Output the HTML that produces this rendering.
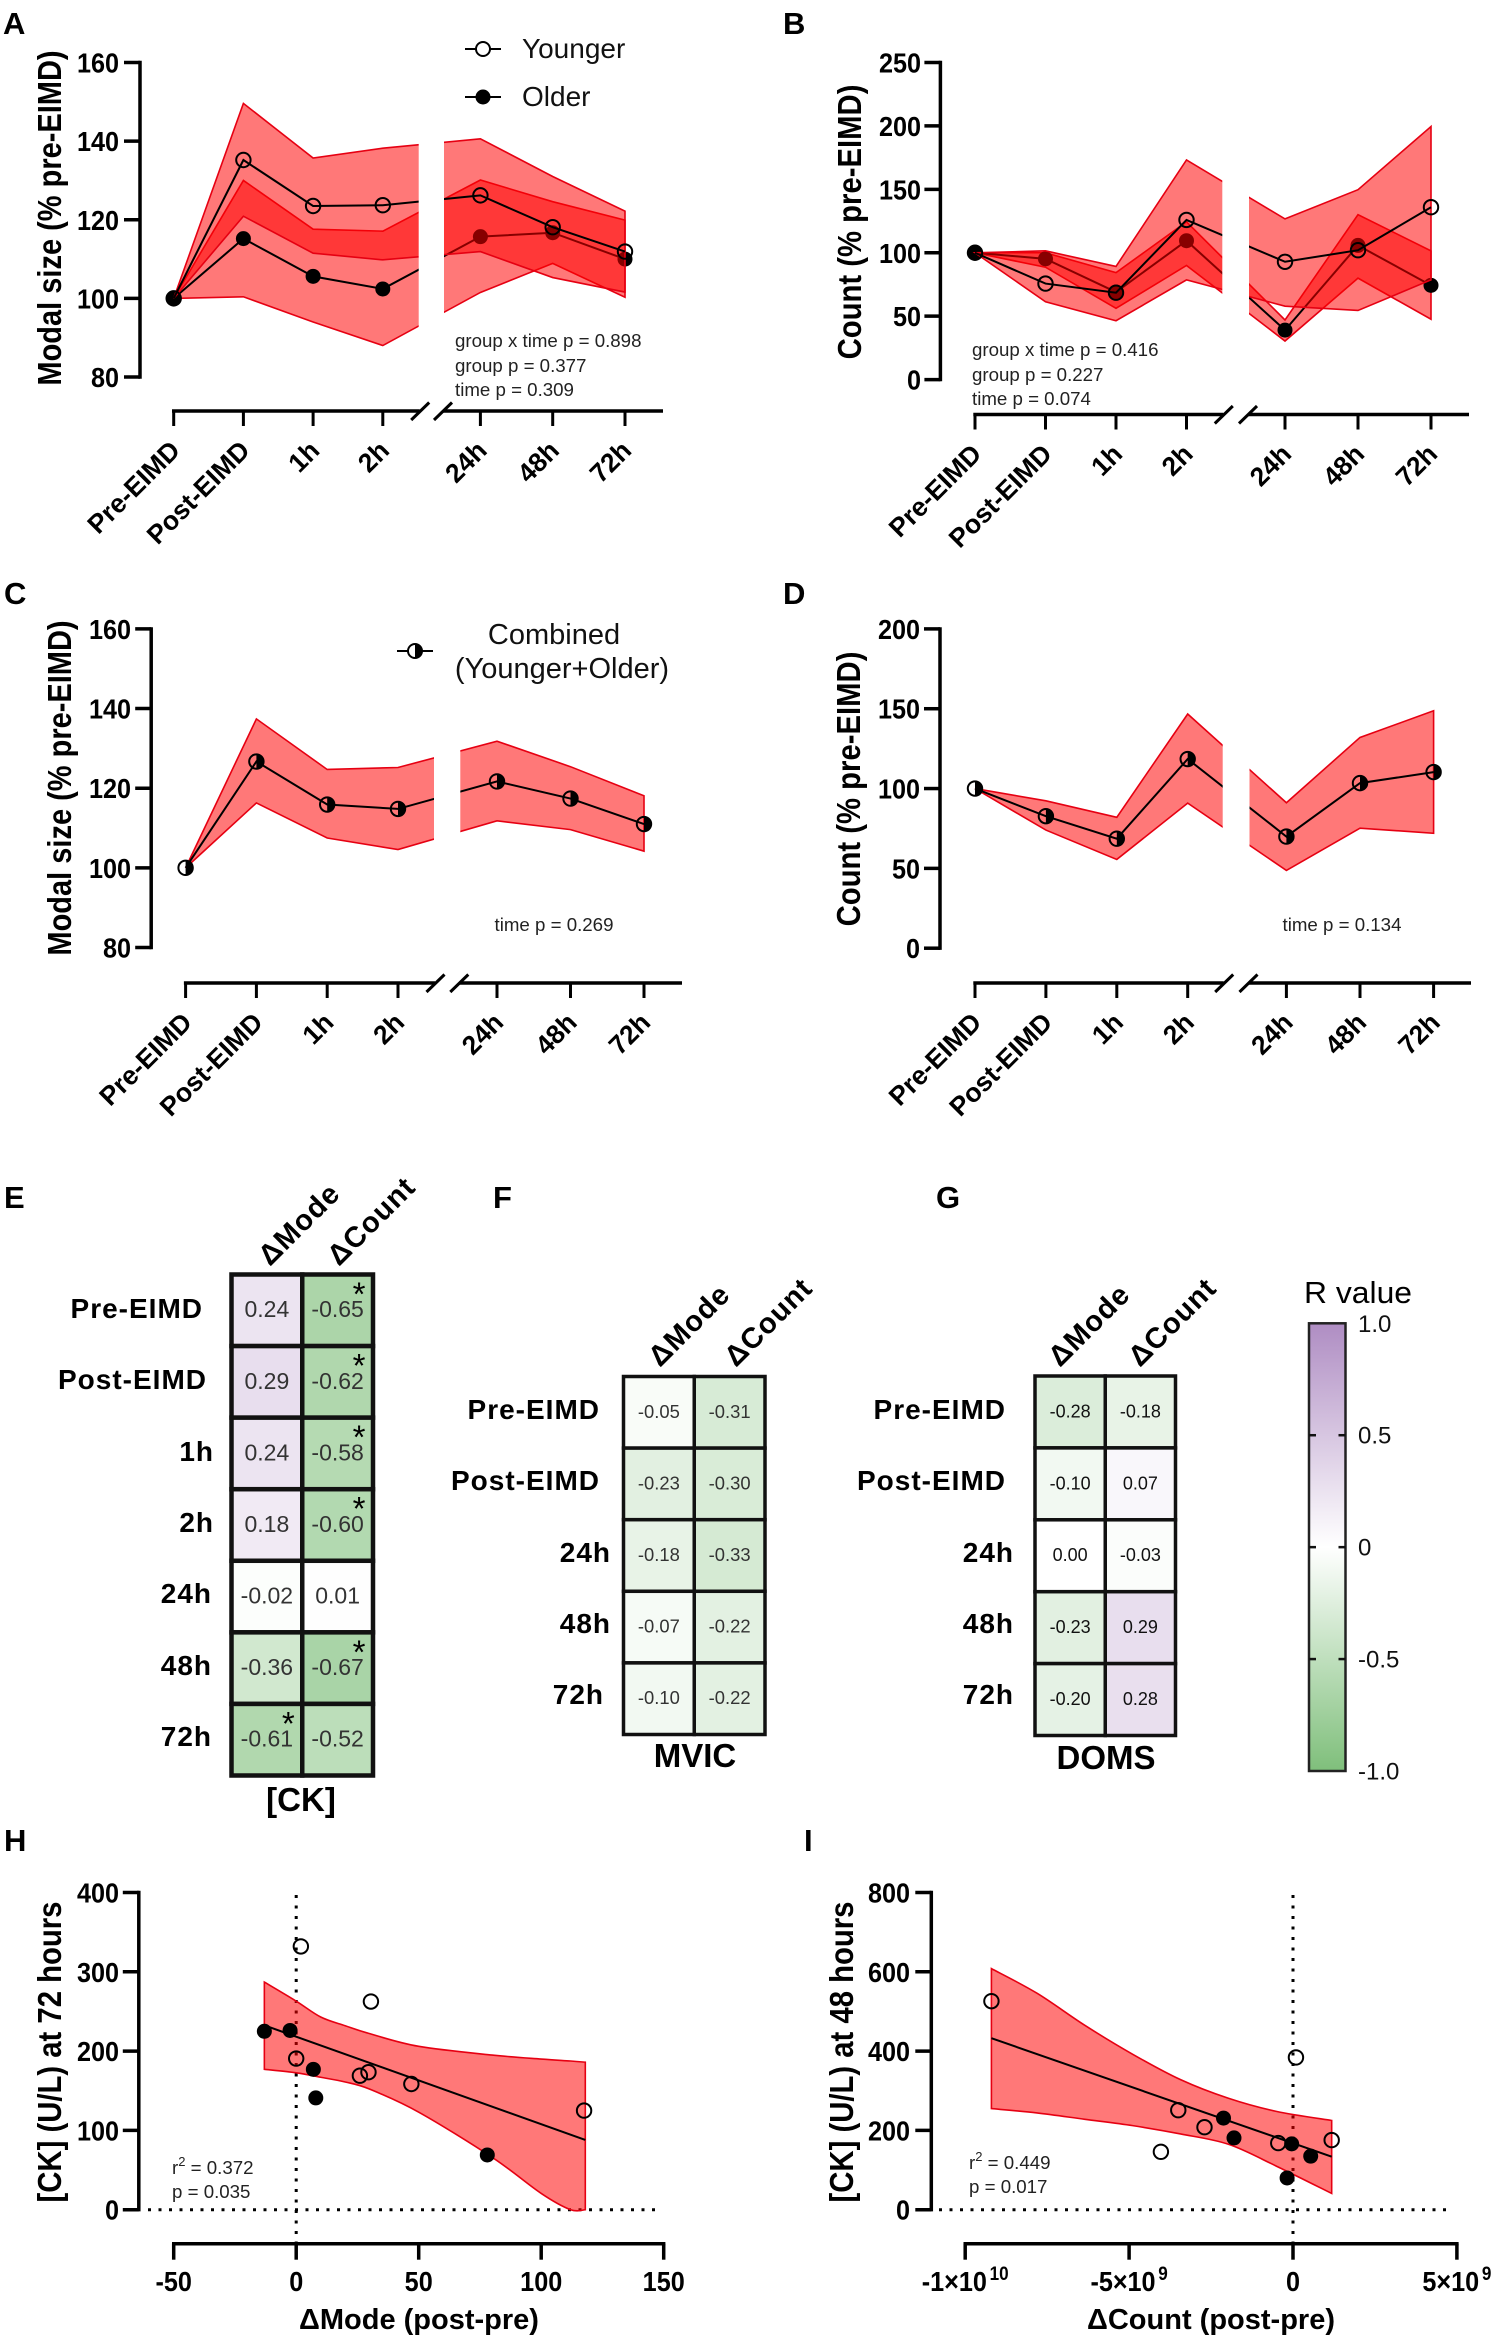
<!DOCTYPE html>
<html lang="en">
<head>
<meta charset="utf-8">
<title>Multi-panel figure: modal size, count and correlations</title>
<style>
html,body{margin:0;padding:0;background:#fff;}
svg{display:block;}
text{font-family:"Liberation Sans",Arial,sans-serif;fill:#000;}
.pl{font-size:31px;font-weight:bold;}
.yt{font-size:29px;font-weight:bold;text-anchor:middle;}
.xt{font-size:29px;font-weight:bold;text-anchor:middle;}
.tick{font-size:28px;font-weight:bold;}
.cat{font-size:26.5px;font-weight:bold;text-anchor:end;}
.stat{font-size:18.7px;fill:#222;}
.leg{font-size:28px;fill:#111;}
.legc{font-size:29px;fill:#111;text-anchor:middle;}
.row{font-size:28px;font-weight:bold;letter-spacing:1px;text-anchor:end;}
.col{font-size:29px;font-weight:bold;letter-spacing:1px;}
.heatname{font-size:33px;font-weight:bold;text-anchor:middle;}
.cb{font-size:24px;fill:#111;}
</style>
</head>
<body>
<svg id="figure" xmlns="http://www.w3.org/2000/svg" width="1500" height="2342" viewBox="0 0 1500 2342">
<defs>
<linearGradient id="cb-grad" x1="0" y1="0" x2="0" y2="1">
<stop offset="0" stop-color="#af8dc3"/>
<stop offset="0.5" stop-color="#ffffff"/>
<stop offset="1" stop-color="#7fbf7b"/>
</linearGradient>
</defs>

<g id="panel-a"></g>
<g id="panel-b"></g>
<g id="panel-c"></g>
<g id="panel-d"></g>
<g id="panel-e"></g>
<g id="panel-f"></g>
<g id="panel-g"></g>
<g id="colorbar"></g>
<g id="panel-h"></g>
<g id="panel-i"></g>

<!-- panel letters -->
<text class="pl" x="3" y="34">A</text>
<text class="pl" x="783" y="34">B</text>
<text class="pl" x="4" y="604">C</text>
<text class="pl" x="783" y="604">D</text>
<text class="pl" x="4" y="1208">E</text>
<text class="pl" x="493" y="1208">F</text>
<text class="pl" x="936" y="1208">G</text>
<text class="pl" x="4" y="1851">H</text>
<text class="pl" x="804" y="1851">I</text>

<!-- axis titles -->
<text class="yt" transform="translate(61 218) rotate(-90) scale(1 1.15)">Modal size (% pre-EIMD)</text>
<text class="yt" transform="translate(861 222) rotate(-90) scale(1.01 1.15)">Count (% pre-EIMD)</text>
<text class="yt" transform="translate(71 788) rotate(-90) scale(1 1.15)">Modal size (% pre-EIMD)</text>
<text class="yt" transform="translate(860 789) rotate(-90) scale(1.01 1.15)">Count (% pre-EIMD)</text>
<text class="yt" transform="translate(61 2052) rotate(-90) scale(1.01 1.15)">[CK] (U/L) at 72 hours</text>
<text class="yt" transform="translate(853 2052) rotate(-90) scale(1.01 1.15)">[CK] (U/L) at 48 hours</text>
<text class="xt" x="419" y="2329">ΔMode (post-pre)</text>
<text class="xt" x="1211" y="2329">ΔCount (post-pre)</text>

<!-- legends -->
<g>
<line x1="465" y1="49" x2="501" y2="49" stroke="#000" stroke-width="2"/>
<circle cx="483" cy="49" r="7" fill="#fff" stroke="#000" stroke-width="2"/>
<text class="leg" x="522" y="58">Younger</text>
</g>
<g>
<line x1="465" y1="97" x2="501" y2="97" stroke="#000" stroke-width="2"/>
<circle cx="483" cy="97" r="7.5" fill="#000"/>
<text class="leg" x="522" y="106">Older</text>
</g>
<g>
<line x1="397" y1="651" x2="433" y2="651" stroke="#000" stroke-width="2"/>
<circle cx="415" cy="651" r="7" fill="#fff" stroke="#000" stroke-width="2"/>
<path d="M415 644 A7 7 0 0 1 415 658 Z" fill="#000"/>
<text class="legc" x="554" y="644">Combined</text>
<text class="legc" x="562" y="678">(Younger+Older)</text>
</g>

<!-- statistics -->
<g>
<text class="stat" x="455" y="347">group x time p = 0.898</text>
<text class="stat" x="455" y="372">group p = 0.377</text>
<text class="stat" x="455" y="396">time p = 0.309</text>
</g>
<g>
<text class="stat" x="972" y="356">group x time p = 0.416</text>
<text class="stat" x="972" y="381">group p = 0.227</text>
<text class="stat" x="972" y="405">time p = 0.074</text>
</g>
<text class="stat" x="554" y="931" text-anchor="middle">time p = 0.269</text>
<text class="stat" x="1342" y="931" text-anchor="middle">time p = 0.134</text>
<g>
<text class="stat" x="172" y="2174">r<tspan dy="-8" font-size="13">2</tspan><tspan dy="8"> = 0.372</tspan></text>
<text class="stat" x="172" y="2198">p = 0.035</text>
</g>
<g>
<text class="stat" x="969" y="2169">r<tspan dy="-8" font-size="13">2</tspan><tspan dy="8"> = 0.449</tspan></text>
<text class="stat" x="969" y="2193">p = 0.017</text>
</g>

<!-- heatmap row labels -->
<g>
<text class="row" x="203" y="1318">Pre-EIMD</text>
<text class="row" x="207" y="1389">Post-EIMD</text>
<text class="row" x="214" y="1461">1h</text>
<text class="row" x="214" y="1532">2h</text>
<text class="row" x="212" y="1603">24h</text>
<text class="row" x="212" y="1675">48h</text>
<text class="row" x="212" y="1746">72h</text>
</g>
<g>
<text class="row" x="600" y="1419">Pre-EIMD</text>
<text class="row" x="600" y="1490">Post-EIMD</text>
<text class="row" x="611" y="1562">24h</text>
<text class="row" x="611" y="1633">48h</text>
<text class="row" x="604" y="1704">72h</text>
</g>
<g>
<text class="row" x="1006" y="1419">Pre-EIMD</text>
<text class="row" x="1006" y="1490">Post-EIMD</text>
<text class="row" x="1014" y="1562">24h</text>
<text class="row" x="1014" y="1633">48h</text>
<text class="row" x="1014" y="1704">72h</text>
</g>

<!-- heatmap column labels -->
<text class="col" transform="translate(270 1267) rotate(-45)">ΔMode</text>
<text class="col" transform="translate(339 1267) rotate(-45)">ΔCount</text>
<text class="col" transform="translate(660 1368) rotate(-45)">ΔMode</text>
<text class="col" transform="translate(736 1368) rotate(-45)">ΔCount</text>
<text class="col" transform="translate(1060 1368) rotate(-45)">ΔMode</text>
<text class="col" transform="translate(1140 1368) rotate(-45)">ΔCount</text>

<!-- heatmap names -->
<text class="heatname" x="301" y="1811">[CK]</text>
<text class="heatname" x="695" y="1767">MVIC</text>
<text class="heatname" x="1106" y="1769">DOMS</text>
<text x="1304" y="1303" font-size="31" textLength="108" lengthAdjust="spacingAndGlyphs">R value</text>
</svg>

<script>
// ---- shared categories
const timeCategories = ['Pre-EIMD', 'Post-EIMD', '1h', '2h', '24h', '48h', '72h'];

// ---- panel A: modal size, younger vs older
const aYTicks = [80, 100, 120, 140, 160];
const aYoungerMean = [100, 135.2, 123.5, 123.7, 126.2, 118.1, 111.9];
const aYoungerUpper = [100, 149.6, 135.7, 138.2, 140.6, 131, 122.2];
const aYoungerLower = [100, 120.9, 111.5, 109.8, 111.9, 105.3, 101.6];
const aOlderMean = [100, 115.2, 105.6, 102.4, 115.7, 116.7, 110];
const aOlderUpper = [100, 130, 117.6, 117.1, 130.1, 124.6, 119.9];
const aOlderLower = [100, 100.4, 94, 88, 101.5, 108.9, 100.3];

// ---- panel B: count, younger vs older
const bYTicks = [0, 50, 100, 150, 200, 250];
const bYoungerMean = [100, 75.7, 68.5, 125.9, 92.9, 102, 135.9];
const bYoungerUpper = [100, 101.5, 89.2, 173.2, 126.7, 149.7, 199.5];
const bYoungerLower = [100, 61.4, 46.4, 78.6, 57.9, 54.5, 78.6];
const bOlderMean = [100, 95.2, 69, 109.5, 39, 105.8, 74.3];
const bOlderUpper = [100, 100, 84.3, 124.4, 47, 130, 101.5];
const bOlderLower = [100, 88.6, 56.2, 90, 30.4, 80, 47.6];

// ---- panel C: modal size, combined
const cYTicks = [80, 100, 120, 140, 160];
const cMean = [100, 126.7, 115.9, 114.8, 121.7, 117.4, 111];
const cUpper = [100, 137.4, 124.7, 125.2, 131.8, 125.4, 118.1];
const cLower = [100, 116.3, 107.5, 104.6, 111.8, 109.6, 104.2];

// ---- panel D: count, combined
const dYTicks = [0, 50, 100, 150, 200];
const dMean = [100, 82.7, 68.6, 118.5, 69.9, 103.4, 110.3];
const dUpper = [100, 92.3, 82, 146.7, 91.1, 132, 148.7];
const dLower = [100, 74, 55.6, 90.9, 48.7, 75.2, 72];

// ---- heatmaps E, F, G
const heatColumns = ['ΔMode', 'ΔCount'];
const eMode = [0.24, 0.29, 0.24, 0.18, -0.02, -0.36, -0.61];
const eCount = [-0.65, -0.62, -0.58, -0.60, 0.01, -0.67, -0.52];
const eModeSignificant = [false, false, false, false, false, false, true];
const eCountSignificant = [true, true, true, true, false, true, false];
const fMode = [-0.05, -0.23, -0.18, -0.07, -0.10];
const fCount = [-0.31, -0.30, -0.33, -0.22, -0.22];
const gMode = [-0.28, -0.10, 0.00, -0.23, -0.20];
const gCount = [-0.18, 0.07, -0.03, 0.29, 0.28];
const colorbarTicks = [1, 0.5, 0, -0.5, -1];
const colorbarTickLabels = ['1.0', '0.5', '0', '-0.5', '-1.0'];

// ---- panel H: [CK] at 72 h vs delta mode
const hXTicks = [-50, 0, 50, 100, 150];
const hYTicks = [0, 100, 200, 300, 400];
const hBandX = [-13, 0, 10, 20, 30, 50, 80, 100, 112, 118];
const hBandUpper = [287, 263, 243, 232, 222, 206, 195, 190, 187.5, 186];
const hBandLower = [177, 172.6, 167, 161, 152, 123, 66, 20.5, 0, 0];
const hFitX = [-13, 118];
const hFitY = [232.5, 88];
const hYoungerX = [1.9, 30.5, 0, 26, 29.5, 47, 117.5];
const hYoungerY = [332, 262.5, 190.6, 169, 173.4, 158.5, 125];
const hOlderX = [-13, -2.5, 7, 8, 78];
const hOlderY = [225, 226, 177, 141, 69];

// ---- panel I: [CK] at 48 h vs delta count (x in units of 1e9)
const iXTicks = [-10, -5, 0, 5];
const iXTickBases = ['-1×10', '-5×10', '0', '5×10'];
const iXTickExponents = ['10', '9', '', '9'];
const iYTicks = [0, 200, 400, 600, 800];
const iBandX = [-9.2, -7.81, -6.35, -4.89, -3.43, -1.97, -0.51, 1.18];
const iBandUpper = [608, 546, 465, 392, 328, 281, 248, 225];
const iBandLower = [255, 244, 228, 212, 191, 165, 110, 41];
const iFitX = [-9.2, 1.18];
const iFitY = [432.5, 133.6];
const iYoungerX = [-9.2, -3.5, -2.7, -4.03, -0.45, 0.09, 1.18];
const iYoungerY = [526, 251, 208, 146, 168, 384, 175.6];
const iOlderX = [-2.12, -1.8, -0.04, 0.54, -0.18];
const iOlderY = [231, 181, 166, 135, 80];

// ---- helpers
const SVGNS = 'http://www.w3.org/2000/svg';
const BAND_FILL = 'rgba(255,0,0,0.53)';
const BAND_STROKE = '#e60012';

function el(tag, attrs, parent) {
  const node = document.createElementNS(SVGNS, tag);
  for (const k in attrs) node.setAttribute(k, attrs[k]);
  parent.appendChild(node);
  return node;
}
function linear(d0, r0, d1, r1) {
  return function (v) { return r0 + (v - d0) * (r1 - r0) / (d1 - d0); };
}
function pts(xs, ys) {
  return xs.map(function (x, i) { return x.toFixed(2) + ',' + ys[i].toFixed(2); }).join(' ');
}

function drawYAxis(g, axisX, ticks, y, labelRight) {
  const lo = Math.min.apply(null, ticks);
  const hi = Math.max.apply(null, ticks);
  const axis = el('line', { x1: axisX, x2: axisX, y1: y(hi) - 1.7, y2: y(lo) + 1.7, stroke: '#000', 'stroke-width': 3.5 }, g);
  
  
  ticks.forEach(function (t) {
    const mark = el('line', { x1: axisX - 16, x2: axisX, y1: y(t), y2: y(t), stroke: '#000', 'stroke-width': 3.5 }, g);
    
    
    const label = el('text', { class: 'tick', 'text-anchor': 'end', transform: 'translate(' + labelRight + ' ' + (y(t) + 10) + ') scale(0.9 1)' }, g);
    label.textContent = String(t);
    
    
  });
}

function drawBand(g, xs, upper, lower, y, name) {
  const xsAll = xs.concat(xs.slice().reverse());
  const ysAll = upper.map(y).concat(lower.slice().reverse().map(y));
  const band = el('polygon', { points: pts(xsAll, ysAll), fill: BAND_FILL, stroke: BAND_STROKE, 'stroke-width': 1.6, 'stroke-linejoin': 'miter' }, g);
  
  
}

// Catmull-Rom segments through the given pixel points
function smoothSegments(px, py) {
  let d = '';
  for (let i = 0; i < px.length - 1; i++) {
    const i0 = Math.max(0, i - 1);
    const i3 = Math.min(px.length - 1, i + 2);
    const c1x = px[i] + (px[i + 1] - px[i0]) / 6;
    const c1y = py[i] + (py[i + 1] - py[i0]) / 6;
    const c2x = px[i + 1] - (px[i3] - px[i]) / 6;
    const c2y = py[i + 1] - (py[i3] - py[i]) / 6;
    d += ' C' + c1x.toFixed(2) + ' ' + c1y.toFixed(2) + ' ' + c2x.toFixed(2) + ' ' + c2y.toFixed(2) + ' ' + px[i + 1].toFixed(2) + ' ' + py[i + 1].toFixed(2);
  }
  return d;
}

function drawSmoothBand(g, xs, upper, lower, y, name) {
  const up = upper.map(y);
  const low = lower.map(y).reverse();
  const revX = xs.slice().reverse();
  const d = 'M' + xs[0].toFixed(2) + ' ' + up[0].toFixed(2) + smoothSegments(xs, up) +
    ' L' + revX[0].toFixed(2) + ' ' + low[0].toFixed(2) + smoothSegments(revX, low) + ' Z';
  const band = el('path', { d: d, fill: BAND_FILL, stroke: BAND_STROKE, 'stroke-width': 1.6 }, g);
  
  
}

function drawLine(g, xs, values, y, name) {
  const line = el('polyline', { points: pts(xs, values.map(y)), fill: 'none', stroke: '#000', 'stroke-width': 2 }, g);
  
  
}

function drawMarkers(g, xs, ys, kind, name) {
  xs.forEach(function (cx, i) {
    const cy = ys[i];
    if (kind === 'filled') {
      const dot = el('circle', { cx: cx, cy: cy, r: 7.5, fill: '#000' }, g);
      
      
    } else {
      const ring = el('circle', { cx: cx, cy: cy, r: 7.2, fill: 'none', stroke: '#000', 'stroke-width': 2 }, g);
      
      
      if (kind === 'half') {
        const half = el('path', { d: 'M' + cx + ' ' + (cy - 7.2) + ' A7.2 7.2 0 0 1 ' + cx + ' ' + (cy + 7.2) + ' Z', fill: '#000' }, g);
        
        
      }
    }
  });
}

// layout: tickX (7 x positions), gapL, gapR, axisY, axisL, axisR, top
function drawBreakOverlay(g, lay) {
  const gap = el('rect', { x: lay.gapL, y: lay.top, width: lay.gapR - lay.gapL, height: lay.axisY - 20 - lay.top, fill: '#fff' }, g);
  
  
  const left = el('line', { x1: lay.axisL - 1.7, x2: lay.gapL + 1, y1: lay.axisY, y2: lay.axisY, stroke: '#000', 'stroke-width': 3.5 }, g);
  
  
  const right = el('line', { x1: lay.gapR - 1, x2: lay.axisR, y1: lay.axisY, y2: lay.axisY, stroke: '#000', 'stroke-width': 3.5 }, g);
  
  
  [lay.gapL - 7.5, lay.gapR - 10].forEach(function (sx) {
    const slash = el('line', { x1: sx, y1: lay.axisY + 9, x2: sx + 18, y2: lay.axisY - 8.5, stroke: '#000', 'stroke-width': 3 }, g);
    
    
  });
  lay.tickX.forEach(function (tx, i) {
    const mark = el('line', { x1: tx, x2: tx, y1: lay.axisY, y2: lay.axisY + 15, stroke: '#000', 'stroke-width': 3 }, g);
    
    
    const ex = tx + 8;
    const ey = lay.axisY + 41;
    const label = el('text', { class: 'cat', transform: 'translate(' + ex + ' ' + ey + ') rotate(-45)' }, g);
    label.textContent = timeCategories[i];
    
    
  });
}

function tickPositions(x0, dxL, x24, dxR) {
  return [x0, x0 + dxL, x0 + 2 * dxL, x0 + 3 * dxL, x24, x24 + dxR, x24 + 2 * dxR];
}

// ---- panel A
(function () {
  const g = document.getElementById('panel-a');
  const y = linear(80, 377, 160, 62.5);
  const lay = { tickX: tickPositions(173.7, 69.7, 480.4, 72.3), gapL: 418.7, gapR: 444, axisY: 411, axisL: 173.7, axisR: 663, top: 120 };
  const sx = lay.tickX;
  drawYAxis(g, 140, aYTicks, y, 119);
  drawBand(g, sx, aOlderUpper, aOlderLower, y, 'older');
  drawLine(g, sx, aOlderMean, y, 'older');
  drawMarkers(g, sx, aOlderMean.map(y), 'filled', 'older');
  drawBand(g, sx, aYoungerUpper, aYoungerLower, y, 'younger');
  drawLine(g, sx, aYoungerMean, y, 'younger');
  drawMarkers(g, sx, aYoungerMean.map(y), 'open', 'younger');
  drawBreakOverlay(g, lay);
})();

// ---- panel B
(function () {
  const g = document.getElementById('panel-b');
  const y = linear(0, 379.6, 250, 62.5);
  const lay = { tickX: tickPositions(975, 70.5, 1285, 73), gapL: 1222.3, gapR: 1249, axisY: 414.5, axisL: 975, axisR: 1469, top: 100 };
  const sx = lay.tickX;
  drawYAxis(g, 940.4, bYTicks, y, 921);
  drawBand(g, sx, bOlderUpper, bOlderLower, y, 'older');
  drawLine(g, sx, bOlderMean, y, 'older');
  drawMarkers(g, sx, bOlderMean.map(y), 'filled', 'older');
  drawBand(g, sx, bYoungerUpper, bYoungerLower, y, 'younger');
  drawLine(g, sx, bYoungerMean, y, 'younger');
  drawMarkers(g, sx, bYoungerMean.map(y), 'open', 'younger');
  drawBreakOverlay(g, lay);
})();

// ---- panel C
(function () {
  const g = document.getElementById('panel-c');
  const y = linear(80, 947.5, 160, 628.9);
  const lay = { tickX: tickPositions(185.6, 70.8, 497, 73.5), gapL: 434, gapR: 460.3, axisY: 983, axisL: 185.6, axisR: 682, top: 690 };
  const sx = lay.tickX;
  drawYAxis(g, 151.2, cYTicks, y, 131);
  drawBand(g, sx, cUpper, cLower, y, 'combined');
  drawLine(g, sx, cMean, y, 'combined');
  drawMarkers(g, sx, cMean.map(y), 'half', 'combined');
  drawBreakOverlay(g, lay);
})();

// ---- panel D
(function () {
  const g = document.getElementById('panel-d');
  const y = linear(0, 948.2, 200, 628.9);
  const lay = { tickX: tickPositions(975, 70.9, 1286.4, 73.6), gapL: 1222.7, gapR: 1249.5, axisY: 983, axisL: 975, axisR: 1471, top: 690 };
  const sx = lay.tickX;
  drawYAxis(g, 940, dYTicks, y, 920);
  drawBand(g, sx, dUpper, dLower, y, 'combined');
  drawLine(g, sx, dMean, y, 'combined');
  drawMarkers(g, sx, dMean.map(y), 'half', 'combined');
  drawBreakOverlay(g, lay);
})();

// ---- heatmaps
function heatColor(v) {
  const to = v >= 0 ? [175, 141, 195] : [127, 191, 123];
  const t = Math.min(1, Math.abs(v));
  const c = to.map(function (ch) { return Math.round(255 + (ch - 255) * t); });
  return 'rgb(' + c.join(',') + ')';
}

function drawHeat(g, box, modeValues, countValues, modeStar, countStar, fontSize, textFill) {
  const cols = [modeValues, countValues];
  const stars = [modeStar, countStar];
  const n = modeValues.length;
  const cw = (box.x1 - box.x0) / cols.length;
  const ch = (box.y1 - box.y0) / n;
  cols.forEach(function (colVals, c) {
    colVals.forEach(function (v, r) {
      const x = box.x0 + c * cw;
      const y = box.y0 + r * ch;
      const cell = el('rect', { x: x, y: y, width: cw, height: ch, fill: heatColor(v), stroke: '#111', 'stroke-width': box.sw }, g);
      
      
      const label = el('text', { x: x + cw / 2, y: y + ch / 2 + fontSize * 0.3, 'text-anchor': 'middle', 'font-size': fontSize, style: 'fill:' + textFill }, g);
      label.textContent = v.toFixed(2);
      
      
      if (stars && stars[c] && stars[c][r]) {
        const star = el('text', { x: x + cw - 14, y: y + 31, 'text-anchor': 'middle', 'font-size': 33 }, g);
        star.textContent = '*';
        
        
      }
    });
  });
}

drawHeat(document.getElementById('panel-e'), { x0: 231.5, x1: 373, y0: 1274.5, y1: 1775.5, sw: 4.5 }, eMode, eCount, eModeSignificant, eCountSignificant, 23, '#333');
drawHeat(document.getElementById('panel-f'), { x0: 623.5, x1: 765, y0: 1376.5, y1: 1734.5, sw: 3.5 }, fMode, fCount, null, null, 18.4, '#333');
drawHeat(document.getElementById('panel-g'), { x0: 1035, x1: 1175.5, y0: 1376, y1: 1735.5, sw: 3.5 }, gMode, gCount, null, null, 18, '#111');

// ---- colorbar
(function () {
  const g = document.getElementById('colorbar');
  const y = linear(1, 1323.3, -1, 1771);
  const bar = el('rect', { x: 1309, y: y(1), width: 36.5, height: y(-1) - y(1), fill: 'url(#cb-grad)', stroke: '#222', 'stroke-width': 2.5 }, g);
  
  
  colorbarTicks.forEach(function (t, i) {
    if (Math.abs(t) < 1) {
      const a = el('line', { x1: 1309, x2: 1316, y1: y(t), y2: y(t), stroke: '#111', 'stroke-width': 2.5 }, g);
      
      
      const b = el('line', { x1: 1338.5, x2: 1345.5, y1: y(t), y2: y(t), stroke: '#111', 'stroke-width': 2.5 }, g);
      
      
    }
    const label = el('text', { class: 'cb', x: 1358, y: y(t) + 8.5 }, g);
    label.textContent = colorbarTickLabels[i];
    
    
  });
})();

// ---- scatter panels
function drawScatterFrame(g, f) {
  const dotH = el('line', { x1: f.dotHL, x2: f.dotHR, y1: f.y(0), y2: f.y(0), stroke: '#000', 'stroke-width': 3, 'stroke-dasharray': '3 7.5' }, g);
  
  
  const dotV = el('line', { x1: f.x(0), x2: f.x(0), y1: 1895, y2: f.axisY, stroke: '#000', 'stroke-width': 3, 'stroke-dasharray': '3 7.5' }, g);
  
  
  const axis = el('line', { x1: f.x(f.xTicks[0]) - 1.7, x2: f.x(f.xTicks[f.xTicks.length - 1]) + 1.7, y1: f.axisY, y2: f.axisY, stroke: '#000', 'stroke-width': 3.5 }, g);
  
  
  f.xTicks.forEach(function (t) {
    const mark = el('line', { x1: f.x(t), x2: f.x(t), y1: f.axisY, y2: f.axisY + 16, stroke: '#000', 'stroke-width': 3.5 }, g);
    
    
  });
}

(function () {
  const g = document.getElementById('panel-h');
  const x = linear(0, 296.2, 50, 418.7);
  const y = linear(0, 2209.7, 400, 1892.5);
  drawYAxis(g, 138.8, hYTicks, y, 119);
  drawScatterFrame(g, { x: x, y: y, axisY: 2243.7, xTicks: hXTicks, dotHL: 148, dotHR: 658 });
  hXTicks.forEach(function (t) {
    const label = el('text', { class: 'tick', 'text-anchor': 'middle', transform: 'translate(' + x(t) + ' 2291) scale(0.9 1)' }, g);
    label.textContent = String(t);
    
    
  });
  drawSmoothBand(g, hBandX.map(x), hBandUpper, hBandLower, y, 'confidence');
  drawLine(g, hFitX.map(x), hFitY, y, 'regression');
  drawMarkers(g, hYoungerX.map(x), hYoungerY.map(y), 'open', 'younger');
  drawMarkers(g, hOlderX.map(x), hOlderY.map(y), 'filled', 'older');
})();

(function () {
  const g = document.getElementById('panel-i');
  const x = linear(0, 1293, 5, 1456.9);
  const y = linear(0, 2209.7, 800, 1892.5);
  drawYAxis(g, 931.3, iYTicks, y, 910);
  drawScatterFrame(g, { x: x, y: y, axisY: 2243.7, xTicks: iXTicks, dotHL: 939, dotHR: 1449 });
  iXTicks.forEach(function (t, i) {
    const label = el('text', { class: 'tick', 'text-anchor': 'middle', transform: 'translate(' + x(t) + ' 2291) scale(0.9 1)' }, g);
    label.textContent = iXTickBases[i];
    
    
    if (iXTickExponents[i]) {
      const sup = el('tspan', { dy: -11, dx: 3, 'font-size': 19 }, label);
      sup.textContent = iXTickExponents[i];
      
      
    }
  });
  drawSmoothBand(g, iBandX.map(x), iBandUpper, iBandLower, y, 'confidence');
  drawLine(g, iFitX.map(x), iFitY, y, 'regression');
  drawMarkers(g, iYoungerX.map(x), iYoungerY.map(y), 'open', 'younger');
  drawMarkers(g, iOlderX.map(x), iOlderY.map(y), 'filled', 'older');
})();
</script>
</body>
</html>
